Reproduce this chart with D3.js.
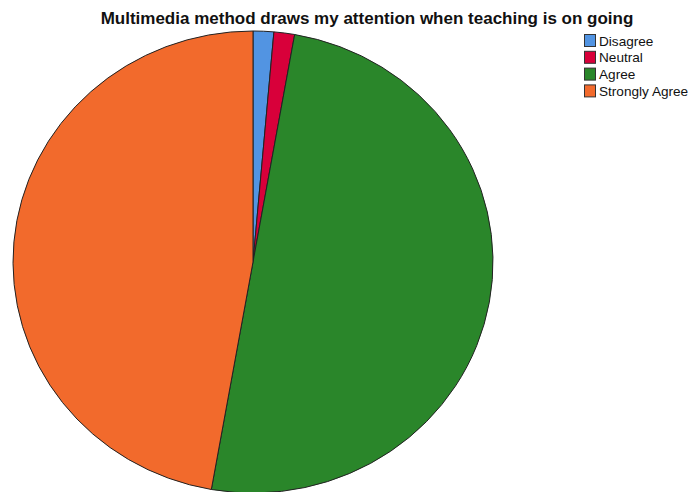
<!DOCTYPE html>
<html>
<head>
<meta charset="utf-8">
<script src="https://cdn.jsdelivr.net/npm/d3@7/dist/d3.min.js"></script>
<style>
  html, body { margin: 0; padding: 0; background: #fff; }
  svg { display: block; font-family: "Liberation Sans", Arial, sans-serif; }
</style>
</head>
<body>
<div id="chart"></div>
<script>
const TITLE = 'Multimedia method draws my attention when teaching is on going';
const CATEGORIES = ['Disagree', 'Neutral', 'Agree', 'Strongly Agree'];
const COUNTS = [1, 1, 36, 34];
const COLORS = ['#5294e2', '#d8003a', '#2a862a', '#f26a2c'];

const W = 690, H = 492;
const cx = 253, cy = 262, rx = 240, ry = 231;

const svg = d3.select('#chart').append('svg').attr('width', W).attr('height', H);

svg.append('text').attr('x', 367).attr('y', 24).attr('text-anchor', 'middle')
  .attr('font-size', 17).attr('font-weight', 'bold').attr('fill', '#111')
  .text(TITLE);

// pie, squashed a little vertically like the source
const data = CATEGORIES.map((c, i) => ({ cat: c, n: COUNTS[i], color: COLORS[i] }));
const pie = d3.pie().value(d => d.n).sort(null);
const arc = d3.arc().innerRadius(0).outerRadius(rx);
const color = d3.scaleOrdinal().domain(CATEGORIES).range(COLORS);

const g = svg.append('g').attr('transform', `translate(${cx},${cy}) scale(1,${ry / rx})`);
g.selectAll('path').data(pie(data)).join('path')
  .attr('d', arc)
  .attr('fill', d => color(d.data.cat))
  .attr('stroke', '#222').attr('stroke-width', 1)
  .attr('vector-effect', 'non-scaling-stroke');

// legend
const leg = svg.append('g').attr('transform', 'translate(584,34)');
const row = leg.selectAll('g').data(CATEGORIES).join('g')
  .attr('transform', (d, i) => `translate(0,${i * 16.8})`);
row.append('rect').attr('x', 0.5).attr('y', 0.5).attr('width', 11).attr('height', 12)
  .attr('fill', d => color(d)).attr('stroke', '#333').attr('stroke-width', 1);
row.append('text').attr('x', 15).attr('y', 11.5).attr('font-size', 13.6).attr('fill', '#111')
  .text(d => d);
</script>
</body>
</html>
